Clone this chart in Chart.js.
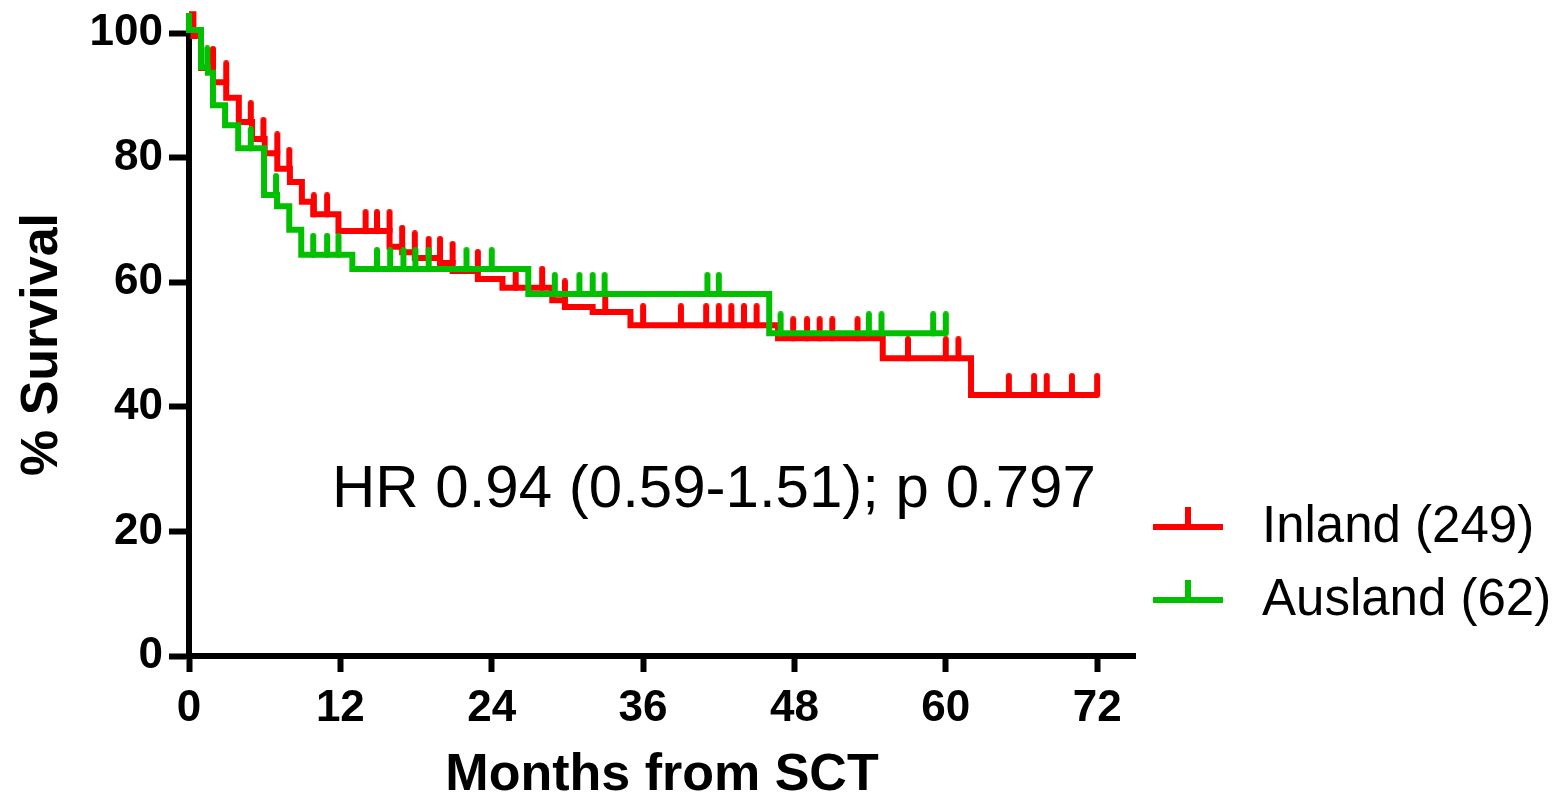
<!DOCTYPE html>
<html>
<head>
<meta charset="utf-8">
<script src="https://cdn.jsdelivr.net/npm/chart.js@4.4.1/dist/chart.umd.min.js"></script>
<style>
  html, body { margin: 0; padding: 0; background: #fff; }
  #wrap { width: 1557px; height: 802px; position: relative; }
</style>
</head>
<body>
<div id="wrap"><canvas id="kmChart"></canvas></div>
<script>
// Kaplan-Meier steps: time of drop (months) and survival (%) after it
const inlandTimes = [0, 0.35, 0.95, 1.9, 2.95, 3.95, 5.0, 6.0, 7.0, 8.0, 8.95, 9.85, 11.85, 15.9, 16.9, 17.9, 19.9, 20.9, 22.9, 24.85, 28.8, 29.8, 32.0, 35.0, 46.7, 55.0, 62.0, 72.0];
const inlandSurvival = [103, 99.5, 94.4, 92.1, 89.6, 85.7, 83.0, 80.7, 78.2, 76.1, 72.9, 70.9, 68.2, 65.7, 64.8, 63.9, 63.1, 61.8, 60.5, 59.1, 57.1, 56.0, 55.2, 53.1, 51.0, 47.8, 41.9, 41.9];
const inlandCensored = [1.9, 2.95, 4.9, 5.9, 7.0, 7.95, 9.9, 10.95, 14.0, 14.9, 15.9, 16.9, 17.9, 19.0, 19.9, 20.9, 22.9, 25.9, 28.0, 29.8, 33.0, 36.0, 39.0, 41.0, 42.0, 43.0, 44.0, 45.0, 47.9, 49.0, 50.0, 51.0, 53.0, 57.0, 60.0, 61.0, 65.0, 67.0, 68.0, 70.0, 72.0];

const auslandTimes = [0, 0, 0.95, 1.5, 1.9, 2.86, 3.9, 5.95, 6.98, 7.95, 8.9, 12.95, 26.9, 46.0, 60.0];
const auslandSurvival = [103.2, 100.5, 94.5, 93.6, 88.4, 85.2, 81.5, 74.0, 72.2, 68.4, 64.4, 62.1, 58.1, 51.8, 51.8];
const auslandCensored = [1.45, 4.9, 6.9, 9.85, 10.95, 11.85, 14.9, 15.95, 17.0, 17.95, 19.0, 22.0, 24.0, 29.0, 30.95, 32.0, 32.95, 41.1, 42.0, 46.9, 53.9, 54.9, 59.0, 60.0];

const seriesLabels = ['Inland (249)', 'Ausland (62)'];
const xTicks = [0, 12, 24, 36, 48, 60, 72];
const yTicks = [0, 20, 40, 60, 80, 100];
const hrText = 'HR 0.94 (0.59-1.51); p 0.797';

const RED = '#ff0000';
const GREEN = '#00c000';
const FONT = '"Liberation Sans", Arial, Helvetica, sans-serif';

function steps(times, surv) {
  return times.map((t, i) => ({ x: t, y: surv[i] }));
}

function survivalAt(times, surv, t) {
  let s = surv[0];
  for (let i = 0; i < times.length; i++) {
    if (times[i] < t) s = surv[i];
  }
  return s;
}

function censorPoints(cens, times, surv) {
  return cens.map(t => ({ x: t, y: survivalAt(times, surv, t) }));
}

// small upward tick used as marker for censored cases
function makeTick(color) {
  const c = document.createElement('canvas');
  c.width = 8;
  c.height = 44;
  const g = c.getContext('2d');
  g.strokeStyle = color;
  g.lineWidth = 6;
  g.lineCap = 'round';
  g.beginPath();
  g.moveTo(4, 3);
  g.lineTo(4, 22);
  g.stroke();
  return c;
}

const extras = {
  id: 'extras',
  afterDraw(chart) {
    const ctx = chart.ctx;
    ctx.save();
    // HR annotation
    ctx.fillStyle = '#000';
    ctx.font = '60px ' + FONT;
    ctx.textAlign = 'left';
    ctx.textBaseline = 'alphabetic';
    ctx.fillText(hrText, 332, 507);

    // legend
    const colors = [RED, GREEN];
    const lx = 1153, ly = 527, gap = 73;
    seriesLabels.forEach((label, i) => {
      const y = ly + i * gap;
      ctx.strokeStyle = colors[i];
      ctx.lineWidth = 6;
      ctx.beginPath();
      ctx.moveTo(lx, y);
      ctx.lineTo(lx + 70, y);
      ctx.moveTo(lx + 35, y);
      ctx.lineTo(lx + 35, y - 20);
      ctx.stroke();
      ctx.fillStyle = '#000';
      ctx.font = '51px ' + FONT;
      ctx.textBaseline = 'middle';
      ctx.fillText(label, 1262, y + 1);
    });
    ctx.restore();
  }
};

new Chart(document.getElementById('kmChart'), {
  type: 'line',
  data: {
    datasets: [
      {
        label: seriesLabels[1],
        data: steps(auslandTimes, auslandSurvival),
        borderColor: GREEN,
        borderWidth: 6,
        stepped: 'before',
        pointRadius: 0,
        fill: false,
        clip: false,
        order: 0
      },
      {
        label: seriesLabels[1] + ' censored',
        type: 'scatter',
        data: censorPoints(auslandCensored, auslandTimes, auslandSurvival),
        pointStyle: makeTick(GREEN),
        clip: false,
        order: 1
      },
      {
        label: seriesLabels[0],
        data: steps(inlandTimes, inlandSurvival),
        borderColor: RED,
        borderWidth: 6,
        stepped: 'before',
        pointRadius: 0,
        fill: false,
        clip: false,
        order: 2
      },
      {
        label: seriesLabels[0] + ' censored',
        type: 'scatter',
        data: censorPoints(inlandCensored, inlandTimes, inlandSurvival),
        pointStyle: makeTick(RED),
        clip: false,
        order: 3
      }
    ]
  },
  options: {
    responsive: true,
    maintainAspectRatio: false,
    animation: false,
    events: [],
    layout: { padding: { top: 33, right: 422, left: 0, bottom: 0 } },
    plugins: { legend: { display: false }, tooltip: { enabled: false } },
    scales: {
      x: {
        type: 'linear',
        min: 0,
        max: 75,
        afterFit(scale) { scale.height = 146; },
        afterBuildTicks(scale) { scale.ticks = xTicks.map(v => ({ value: v })); },
        border: { display: true, color: '#000', width: 6 },
        grid: { drawOnChartArea: false, drawTicks: true, tickLength: 16, tickWidth: 6, color: '#000' },
        ticks: { color: '#000', padding: 10, maxRotation: 0, font: { family: FONT, size: 44, weight: 'bold' } },
        title: {
          display: true,
          text: 'Months from SCT',
          color: '#000',
          padding: { top: 0, bottom: 0 },
          font: { family: FONT, size: 52, weight: 'bold', lineHeight: 1.0 }
        }
      },
      y: {
        min: 0,
        max: 100,
        afterFit(scale) { scale.width = 189; },
        afterBuildTicks(scale) { scale.ticks = yTicks.map(v => ({ value: v })); },
        border: { display: true, color: '#000', width: 6 },
        grid: { drawOnChartArea: false, drawTicks: true, tickLength: 20, tickWidth: 6, color: '#000' },
        ticks: { color: '#000', padding: 6, font: { family: FONT, size: 44, weight: 'bold' } },
        title: {
          display: true,
          text: '% Survival',
          color: '#000',
          padding: { top: 11, bottom: 0 },
          font: { family: FONT, size: 52, weight: 'bold', lineHeight: 1.2 }
        }
      }
    }
  },
  plugins: [extras]
});
</script>
</body>
</html>
